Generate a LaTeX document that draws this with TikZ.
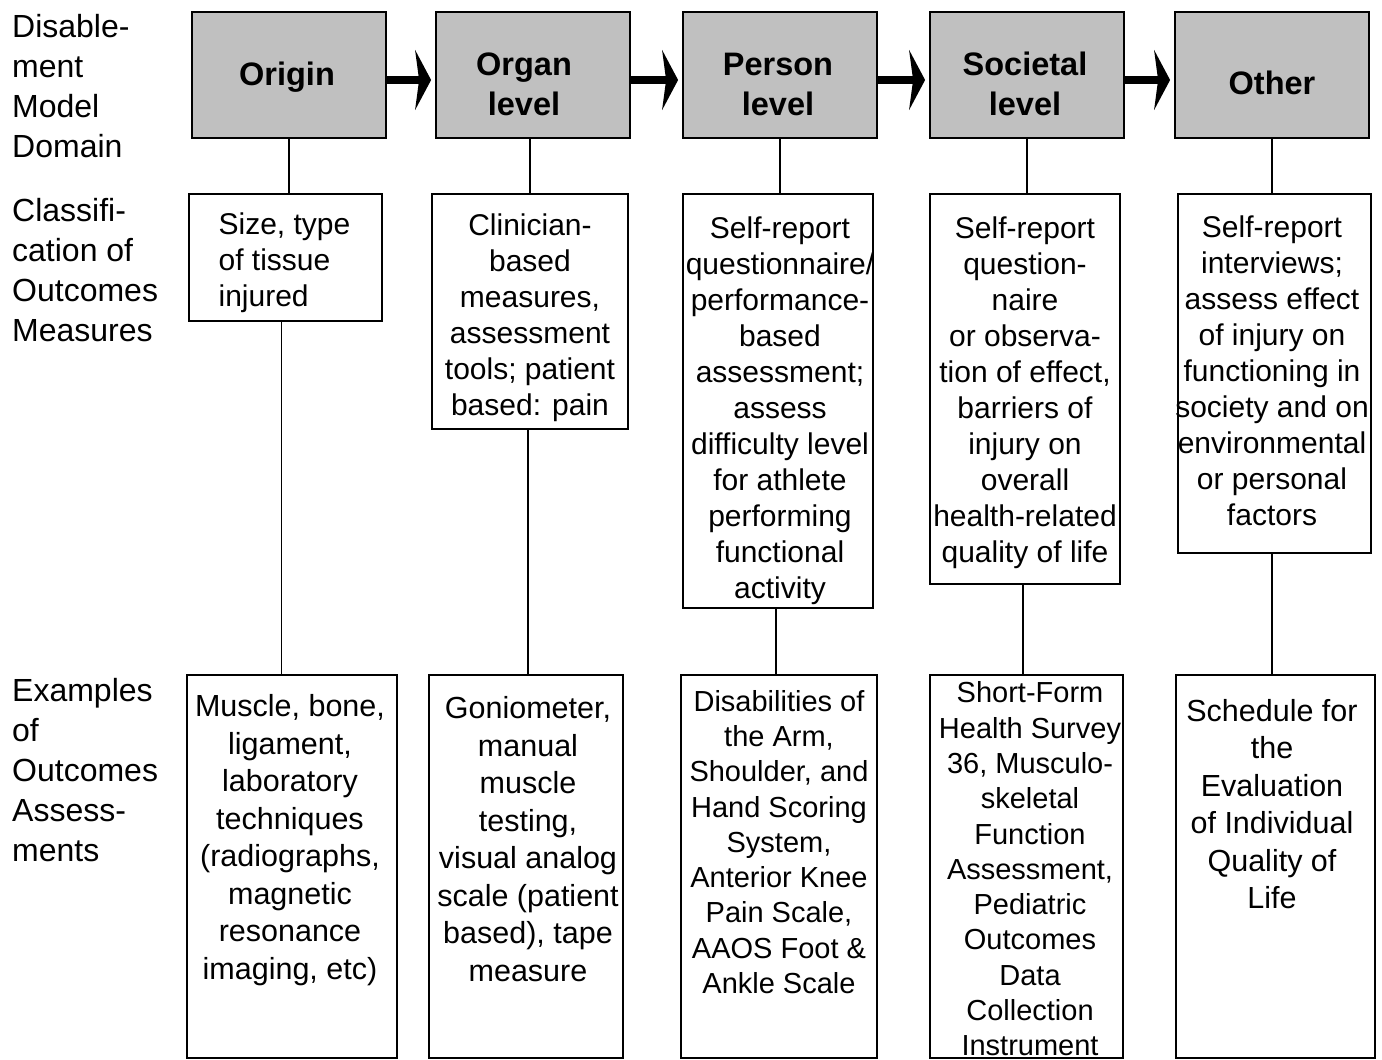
\documentclass[tikz,border=0pt]{standalone}
\usepackage{fontspec}
\setmainfont{Liberation Sans}
\usetikzlibrary{arrows.meta}
\definecolor{hdrgray}{HTML}{C0C0C0}
\tikzset{
  hdr/.style={draw, line width=1.8pt, fill=hdrgray, minimum width=194pt, minimum height=126pt, inner sep=0pt},
  htxt/.style={inner sep=0pt, align=center, font=\fontsize{32.5}{40}\selectfont\bfseries},
  box/.style={draw, line width=1.8pt, inner sep=0pt},
  lbl/.style={inner sep=0pt, anchor=west, align=left, font=\fontsize{32}{40}\selectfont},
  mtxt/.style={inner sep=0pt, align=center, font=\fontsize{30}{36}\selectfont},
  btxt/.style={inner sep=0pt, align=center, font=\fontsize{30.5}{37.5}\selectfont},
  stxt/.style={inner sep=0pt, align=center, font=\fontsize{29}{35.3}\selectfont},
  link/.style={line width=1.8pt},
  bigarrow/.style={line width=8pt, -{Stealth[length=16pt,width=60pt,inset=4pt]}}
}
\begin{document}
\begin{tikzpicture}[x=1pt,y=-1pt]
\useasboundingbox[fill=white] (0,0) rectangle (1382,1060);

% left labels
\node[lbl] (l1) at (12,86) {Disable-\\ment\\Model\\Domain};
\node[lbl] (l2) at (12,270) {Classifi-\\cation of\\Outcomes\\Measures};
\node[lbl] (l3) at (12,770) {Examples\\of\\Outcomes\\Assess-\\ments};

% header row
\node[hdr] (d1) at (289,75) {};
\node[hdr] (d2) at (533,75) {};
\node[hdr] (d3) at (780,75) {};
\node[hdr] (d4) at (1027,75) {};
\node[hdr] (d5) at (1272,75) {};
\node[htxt] (h1) at (287,77) {Origin};
\node[htxt] (h2) at (524,84) {Organ\\level};
\node[htxt] (h3) at (778,84) {Person\\level};
\node[htxt] (h4) at (1025,84) {Societal\\level};
\node[htxt] (h5) at (1272,83) {Other};

% arrows
\draw[bigarrow] ([yshift=-5pt]d1.east) -- ([xshift=-4pt,yshift=-5pt]d2.west);
\draw[bigarrow] ([yshift=-5pt]d2.east) -- ([xshift=-4pt,yshift=-5pt]d3.west);
\draw[bigarrow] ([yshift=-5pt]d3.east) -- ([xshift=-4pt,yshift=-5pt]d4.west);
\draw[bigarrow] ([yshift=-5pt]d4.east) -- ([xshift=-4pt,yshift=-5pt]d5.west);

% middle row boxes
\node[box, minimum width=193pt, minimum height=127pt] (c1) at (285.5,257.5) {};
\node[box, minimum width=196pt, minimum height=235pt] (c2) at (530,311.5) {};
\node[box, minimum width=190pt, minimum height=414pt] (c3) at (778,401) {};
\node[box, minimum width=190pt, minimum height=390pt] (c4) at (1025,389) {};
\node[box, minimum width=193pt, minimum height=359pt] (c5) at (1274.5,373.5) {};

% bottom row boxes
\node[box, minimum width=210pt, minimum height=383pt] (e1) at (292,866.5) {};
\node[box, minimum width=194pt, minimum height=383pt] (e2) at (526,866.5) {};
\node[box, minimum width=196pt, minimum height=383pt] (e3) at (779,866.5) {};
\node[box, minimum width=193pt, minimum height=383pt] (e4) at (1026.5,866.5) {};
\node[box, minimum width=199pt, minimum height=383pt] (e5) at (1275.5,866.5) {};

% connectors header -> middle
\draw[link] (d1.south) -- (d1.south |- c1.north);
\draw[link] (d2.south) ++(-3pt,0) coordinate (k2) -- (k2 |- c2.north);
\draw[link] (d3.south) -- (d3.south |- c3.north);
\draw[link] (d4.south) -- (d4.south |- c4.north);
\draw[link] (d5.south) -- (d5.south |- c5.north);

% connectors middle -> bottom
\draw[link] ([xshift=-4pt]c1.south) coordinate (m1) -- (m1 |- e1.north);
\draw[link] ([xshift=-2pt]c2.south) coordinate (m2) -- (m2 |- e2.north);
\draw[link] ([xshift=-2pt]c3.south) coordinate (m3) -- (m3 |- e3.north);
\draw[link] ([xshift=-2pt]c4.south) coordinate (m4) -- (m4 |- e4.north);
\draw[link] ([xshift=-2.5pt]c5.south) coordinate (m5) -- (m5 |- e5.north);

% middle texts
\node[mtxt, align=left] (t1) at (284.5,263) {Size, type\\of tissue\\injured};
\node[mtxt] (t2) at (530,318) {Clinician-\\based\\measures,\\assessment\\tools; patient\\based: pain};
\node[mtxt] (t3) at (780,411) {Self-report\\questionnaire/\\performance-\\based\\assessment;\\assess\\difficulty level\\for athlete\\performing\\functional\\activity};
\node[mtxt] (t4) at (1025,393) {Self-report\\question-\\naire\\or observa-\\tion of effect,\\barriers of\\injury on\\overall\\health-related\\quality of life};
\node[mtxt] (t5) at (1272,371) {Self-report\\interviews;\\assess effect\\of injury on\\functioning in\\society and on\\environmental\\or personal\\factors};

% bottom texts
\node[btxt] (b1) at (290,840) {Muscle, bone,\\ligament,\\laboratory\\techniques\\(radiographs,\\magnetic\\resonance\\imaging, etc)};
\node[btxt] (b2) at (528,839) {Goniometer,\\manual\\muscle\\testing,\\visual analog\\scale (patient\\based), tape\\measure};
\node[stxt] (b3) at (779,842) {Disabilities of\\the Arm,\\Shoulder, and\\Hand Scoring\\System,\\Anterior Knee\\Pain Scale,\\AAOS Foot \&\\Ankle Scale};
\node[stxt] (b4) at (1030,869) {Short-Form\\Health Survey\\36, Musculo-\\skeletal\\Function\\Assessment,\\Pediatric\\Outcomes\\Data\\Collection\\Instrument};
\node[btxt] (b5) at (1272,804) {Schedule for\\the\\Evaluation\\of Individual\\Quality of\\Life};
\end{tikzpicture}
\end{document}
